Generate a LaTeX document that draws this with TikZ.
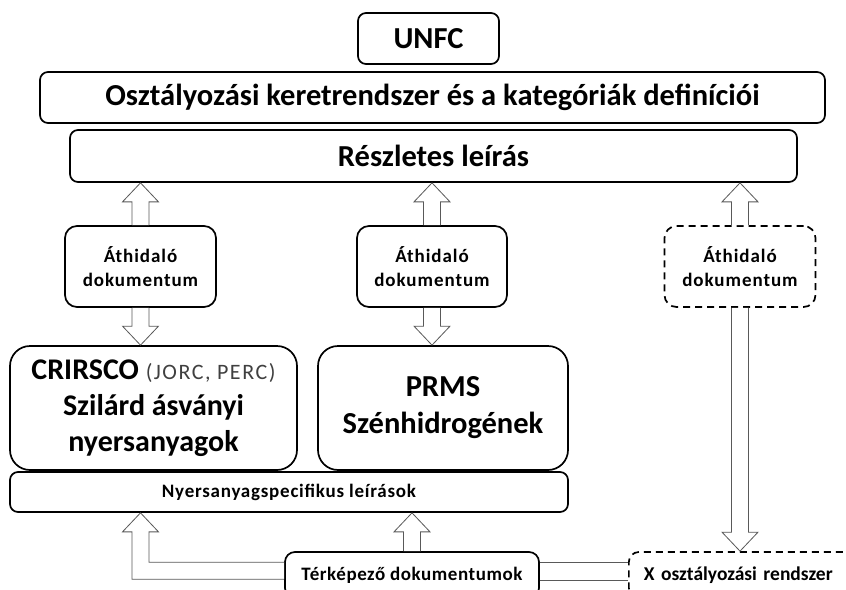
\documentclass[tikz,border=0pt]{standalone}
\usepackage{fontspec}
\setmainfont{Carlito}
\usetikzlibrary{calc}
\newcommand\blockarrow[2]{%
  \path ($(#2)!19pt!(#1)$) coordinate (ba-h);
  \draw[arrline] ($(#1)!8.5pt!90:(#2)$) -- ($(ba-h)!8.5pt!90:(#2)$) -- ($(ba-h)!18pt!90:(#2)$) -- (#2)
    -- ($(ba-h)!18pt!-90:(#2)$) -- ($(ba-h)!8.5pt!-90:(#2)$) -- ($(#1)!8.5pt!-90:(#2)$);
}
\tikzset{
  box/.style={draw, line width=1.7pt, rounded corners=8pt, inner sep=0pt, align=center, fill=white},
  dbox/.style={box, dash pattern=on 7pt off 5pt},
  arrline/.style={draw=black!65, line width=0.8pt, fill=white, line join=miter},
  bigfont/.style={font=\fontsize{30.5}{36}\selectfont\bfseries},
  athfont/.style={font=\fontsize{19}{24.5}\selectfont\bfseries\addfontfeature{LetterSpace=5}},
  smallbold/.style={font=\fontsize{19}{20}\selectfont\bfseries\addfontfeature{LetterSpace=4}},
}
\begin{document}
\begin{tikzpicture}[x=1pt,y=-1pt]
\path[use as bounding box, fill=white] (0,0) rectangle (846,589);

\node[box, bigfont, minimum width=141pt, minimum height=51pt] (unfc) at (428.5,38.5) {UNFC};
\node[box, bigfont, minimum width=785pt, minimum height=51pt] (oszt) at (432.5,97.5) {Osztályozási keretrendszer és a kategóriák definíciói};
\node[box, bigfont, minimum width=727pt, minimum height=52pt] (resz) at (433.5,156) {Részletes leírás};

\node[box, athfont, rounded corners=12pt, minimum width=151pt, minimum height=81pt] (ath1) at (140.5,266.5) {Áthidaló\\dokumentum};
\node[box, athfont, rounded corners=12pt, minimum width=150pt, minimum height=81pt] (ath2) at (432,266.5) {Áthidaló\\dokumentum};
\node[dbox, athfont, rounded corners=12pt, minimum width=151pt, minimum height=81pt] (ath3) at (740,266.5) {Áthidaló\\dokumentum};

\node[box, font=\fontsize{30}{36}\selectfont\bfseries, rounded corners=20pt, minimum width=287pt, minimum height=124pt] (cri) at (153.5,408)
  {CRIRSCO {\fontsize{22}{20}\selectfont\mdseries\addfontfeature{LetterSpace=7}\color{black!75}(JORC, PERC)}\\Szilárd ásványi\\nyersanyagok};
\node[box, font=\fontsize{30.5}{37}\selectfont\bfseries, rounded corners=20pt, minimum width=250pt, minimum height=124pt] (prms) at (443,408)
  {PRMS\\Szénhidrogének};
\node[box, smallbold, minimum width=558pt, minimum height=40pt] (nyers) at (289,492) {Nyersanyagspecifikus leírások};

\node[box, font=\fontsize{19}{22}\selectfont\bfseries\addfontfeature{LetterSpace=3}, rounded corners=10pt, minimum width=254pt, minimum height=46pt] (terk) at (412,575) {Térképező dokumentumok};
\node[dbox, font=\fontsize{19.5}{22}\selectfont\bfseries, rounded corners=10pt, anchor=west, minimum height=46pt,
      text width=230pt, align=left, inner xsep=15pt] (xbox) at (628,575) {X osztályozási rendszer};

% arrows between levels
\blockarrow{ath1.north}{ath1.north |- resz.south}
\blockarrow{ath2.north}{ath2.north |- resz.south}
\blockarrow{ath3.north}{ath3.north |- resz.south}
\blockarrow{ath1.south}{ath1.south |- cri.north}
\blockarrow{ath2.south}{ath2.south |- prms.north}
\blockarrow{ath3.south}{ath3.south |- xbox.north}
\blockarrow{terk.north}{terk.north |- nyers.south}

% L-shaped connector from the mapping documents
\coordinate (lt) at (nyers.south -| ath1.south);
\draw[arrline] ($(terk.north west)+(0,11)$) -- ($(terk.north west -| lt)+(8.5,11)$)
  -- ($(lt)+(8.5,19)$) -- ($(lt)+(18,19)$) -- (lt) -- ($(lt)+(-18,19)$) -- ($(lt)+(-8.5,19)$)
  -- ($(terk.north west -| lt)+(-8.5,28)$) -- ($(terk.north west)+(0,28)$);
\draw[arrline] ($(terk.north east)+(0,11)$) -- ($(xbox.north west)+(0,11)$);
\draw[arrline] ($(terk.north east)+(0,29)$) -- ($(xbox.north west)+(0,29)$);
\end{tikzpicture}
\end{document}
